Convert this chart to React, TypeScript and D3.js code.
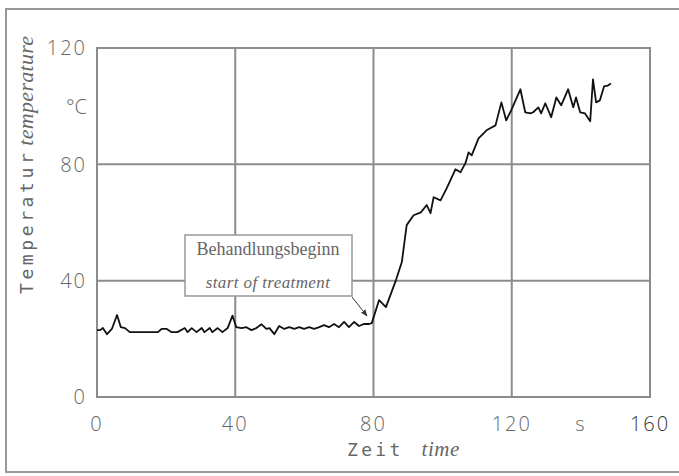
import React from "react";
import * as d3 from "d3";

// time in s
const times = [
  0, 0.9, 1.7, 2.9, 4.3, 5.8, 6.9, 8.1, 9.5, 16.1, 17.6, 18.7, 20.2, 21.6, 23.3,
  25.4, 26.2, 27.4, 28.8, 30.3, 31.1, 32.6, 33.4, 34.9, 36.3, 37.8, 39.2, 40.3,
  41.8, 43.2, 44.7, 46.1, 47.6, 49.0, 49.9, 51.3, 52.7, 54.2, 55.6, 57.1, 58.5,
  59.9, 61.4, 62.8, 64.3, 65.7, 67.1, 68.6, 70.0, 71.5, 72.9, 74.4, 75.8, 77.2,
  78.7, 79.5, 81.6, 83.6, 86.5, 88.2, 89.6, 91.6, 93.7, 95.4, 96.5, 97.4, 99.4,
  101.2, 103.7, 105.2, 106.6, 107.5, 108.4, 110.4, 112.7, 115.3, 117.0, 118.4,
  119.9, 122.5, 123.9, 125.4, 126.2, 127.7, 128.5, 129.7, 131.4, 132.9, 134.3,
  136.3, 137.8, 138.6, 139.8, 141.2, 142.7, 143.5, 144.4, 145.5, 146.7, 147.8,
  148.7,
];

// temperature in °C
const temps = [
  23, 23, 23.7, 21.6, 23.4, 28.2, 24, 23.7, 22.3, 22.3, 22.3, 23.4, 23.4, 22.3,
  22.3, 23.7, 22.3, 23.7, 22.3, 23.7, 22.3, 23.7, 22.3, 23.7, 22.3, 23.7, 28,
  24, 23.7, 24, 23, 23.7, 25, 23.4, 23.7, 21.6, 24.4, 23.4, 24, 23.4, 24, 23.4,
  24, 23.4, 24, 24.7, 24, 25.1, 24, 25.8, 24, 25.8, 24.4, 25.1, 25.1, 25.4,
  33.3, 30.9, 40.2, 46.4, 59.1, 62.5, 63.5, 66.0, 63.2, 68.7, 67.6, 71.8, 78.3,
  77.3, 80.4, 84.1, 83.1, 88.9, 91.7, 93.4, 101.3, 95.1, 98.7, 105.8, 97.9,
  97.5, 97.9, 99.6, 97.5, 101.0, 96.2, 103.0, 100.3, 105.8, 99.6, 103.0, 97.9,
  97.5, 94.8, 109.2, 101.3, 102.0, 106.8, 107.1, 107.8,
];

const xTicks = [0, 40, 80, 120, 160];
const yTicks = [0, 40, 80, 120];

const W = 679;
const H = 476;
const grey = "#8c8c8c";
const textGrey = "#666";
const sans = "'Open Sans', 'DejaVu Sans', sans-serif";
const mono = "'DejaVu Sans Mono', monospace";
const serif = "'Liberation Serif', 'Times New Roman', serif";

export default function App() {
  const x = d3.scaleLinear().domain([0, 160]).range([97, 650]);
  const y = d3.scaleLinear().domain([0, 120]).range([397, 48]);

  const data = times.map((t, i) => ({ t, v: temps[i] }));
  const line = d3
    .line<{ t: number; v: number }>()
    .x((d) => x(d.t))
    .y((d) => y(d.v));

  return (
    <svg
      width={W}
      height={H}
      style={{ position: "absolute", left: 0, top: 0, background: "#fff" }}
    >
      <defs>
        <marker
          id="arr"
          viewBox="0 0 10 10"
          refX="9"
          refY="5"
          markerWidth="7"
          markerHeight="7"
          orient="auto"
        >
          <path d="M0,1 L10,5 L0,9 Z" fill="#333" />
        </marker>
      </defs>

      {/* outer frame */}
      <rect x={6} y={9} width={700} height={463} fill="none" stroke="#999" strokeWidth={2} />

      {/* grid */}
      {xTicks.slice(1, -1).map((t) => (
        <line key={"gx" + t} x1={x(t)} x2={x(t)} y1={y(0)} y2={y(120)} stroke={grey} strokeWidth={2} />
      ))}
      {yTicks.slice(1, -1).map((v) => (
        <line key={"gy" + v} x1={x(0)} x2={x(160)} y1={y(v)} y2={y(v)} stroke={grey} strokeWidth={2} />
      ))}
      <rect
        x={x(0)}
        y={y(120)}
        width={x(160) - x(0)}
        height={y(0) - y(120)}
        fill="none"
        stroke={grey}
        strokeWidth={2}
      />

      {/* data */}
      <path d={line(data) || ""} fill="none" stroke="#111" strokeWidth={1.8} strokeLinejoin="round" />

      {/* annotation */}
      <rect x={185} y={235} width={167} height={61} fill="#fff" stroke="#999" strokeWidth={1.5} />
      <text x={268} y={255} textAnchor="middle" fontFamily={serif} fontSize={18} fill={textGrey}>
        Behandlungsbeginn
      </text>
      <text
        x={268}
        y={288}
        textAnchor="middle"
        fontFamily={serif}
        fontStyle="italic"
        fontSize={17}
        letterSpacing={0.4}
        fill={textGrey}
      >
        start of treatment
      </text>
      <line x1={352} y1={297} x2={367} y2={316} stroke="#333" strokeWidth={1} markerEnd="url(#arr)" />

      {/* y tick labels */}
      {yTicks.map((v) => (
        <text
          key={"yl" + v}
          x={87}
          y={y(v)}
          dy="0.36em"
          textAnchor="end"
          fontFamily={sans}
          fontWeight={300}
          fontSize={20}
          letterSpacing={2}
          fill={textGrey}
        >
          {v}
        </text>
      ))}
      <text x={87} y={107} dy="0.36em" textAnchor="end" fontFamily={sans} fontWeight={300} fontSize={20} fill={textGrey}>
        °C
      </text>

      {/* x tick labels */}
      {xTicks.map((t) => (
        <text
          key={"xl" + t}
          x={x(t)}
          y={424}
          dy="0.36em"
          textAnchor="middle"
          fontFamily={sans}
          fontWeight={300}
          fontSize={20}
          letterSpacing={2}
          fill={t === 160 ? "#333" : textGrey}
        >
          {t}
        </text>
      ))}
      <text x={580} y={424} dy="0.36em" textAnchor="middle" fontFamily={sans} fontWeight={300} fontSize={20} fill={textGrey}>
        s
      </text>

      {/* axis titles */}
      <text x={347} y={456} fontFamily={mono} fontSize={18} letterSpacing={3.3} fill={textGrey}>
        Zeit
        <tspan dx={18} fontFamily={serif} fontStyle="italic" fontSize={21} letterSpacing={0.5}>
          time
        </tspan>
      </text>
      <text
        transform="translate(33,294) rotate(-90)"
        fontFamily={mono}
        fontSize={18}
        letterSpacing={3.6}
        fill={textGrey}
      >
        Temperatur
        <tspan dx={4} fontFamily={serif} fontStyle="italic" fontSize={22} letterSpacing={0.3}>
          temperature
        </tspan>
      </text>
    </svg>
  );
}
